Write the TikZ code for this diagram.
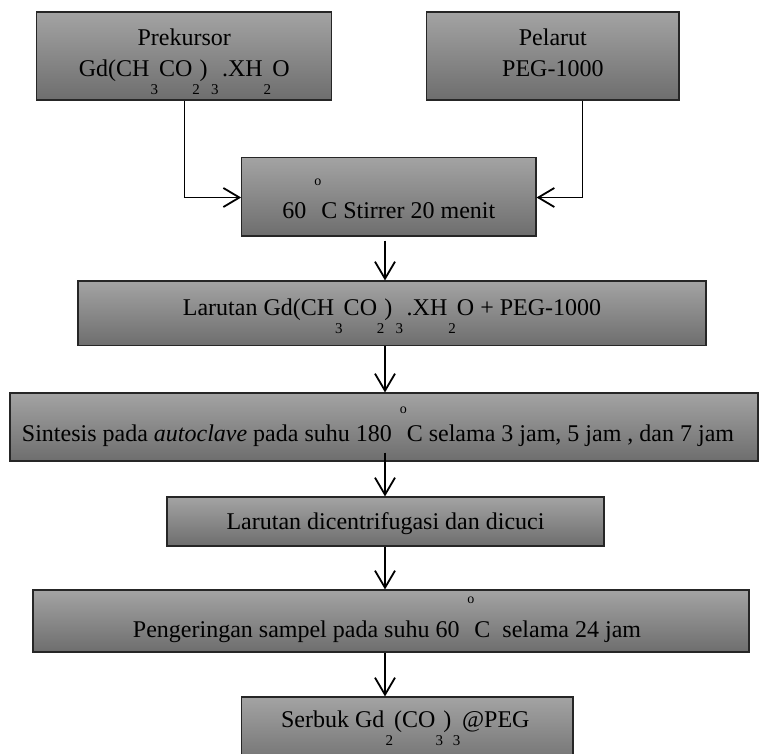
\documentclass[tikz,border=0pt]{standalone}
\usepackage{fontspec}
\setmainfont{Liberation Serif}
\usetikzlibrary{arrows.meta}
% low subscript placed well below the baseline, as in the reference
\newcommand{\lsub}[2][0.4em]{\makebox[#1]{\smash{\raisebox{-18pt}{\fontsize{15}{15}\selectfont #2}}}}
% raised degree sign "o"
\newcommand{\dego}[1][33pt]{\makebox[0.62em][r]{\smash{\raisebox{#1}{\fontsize{14}{14}\selectfont o}}}}
\begin{document}
\begin{tikzpicture}[x=1pt,y=-1pt,
  box/.style={draw=black!85, line width=1.1pt, top color=black!36, bottom color=black!57, inner sep=0pt},
  txt/.style={font=\fontsize{24}{31}\selectfont, inner sep=0pt, text=black},
  arr/.style={line width=1.8pt, -{Straight Barb[length=17pt,width=20pt]}},
  sidearr/.style={line width=1.8pt, -{Straight Barb[length=16pt,width=19pt]}},
  conn/.style={line width=0.9pt}]
\useasboundingbox (0,0) rectangle (760,754);
% boxes
\node[box, minimum width=295pt,   minimum height=88pt]   (b1) at (184.2,56) {};
\node[box, minimum width=252.3pt, minimum height=88pt]   (b2) at (552.85,56) {};
\node[box, minimum width=294.3pt, minimum height=78.7pt] (b3) at (388.85,196.65) {};
\node[box, minimum width=628pt,   minimum height=64.7pt] (b4) at (392,313.35) {};
\node[box, minimum width=748pt,   minimum height=68pt]   (b5) at (384,427) {};
\node[box, minimum width=437pt,   minimum height=49pt]   (b6) at (385.5,521.5) {};
\node[box, minimum width=716pt,   minimum height=62pt]   (b7) at (391,621) {};
\node[box, minimum width=331.3pt, minimum height=73pt]   (b8) at (407.35,733.5) {};
% texts
\node[txt, align=center] (t1) at ([yshift=1.2pt]b1.center) {Prekursor\\Gd(CH\lsub{3}CO\lsub[0.3em]{2})\lsub[0.6em]{3}.XH\lsub{2}O};
\node[txt, align=center] (t2) at ([yshift=3.2pt]b2.center) {Pelarut\\PEG-1000};
\node[txt, anchor=base] (t3) at ([yshift=-21.7pt]b3.center) {60\dego[33pt]C Stirrer 20 menit};
\node[txt, anchor=base] (t4) at ([yshift=-1.7pt]b4.center) {Larutan Gd(CH\lsub{3}CO\lsub[0.3em]{2})\lsub[0.6em]{3}.XH\lsub{2}O + PEG-1000};
\node[txt, anchor=base] (t5) at ([xshift=-6pt,yshift=-14pt]b5.center) {Sintesis pada \textit{autoclave} pada suhu 180\dego[28pt]C selama 3 jam, 5 jam , dan 7 jam};
\node[txt, anchor=base] (t6) at ([yshift=-7.5pt]b6.center) {Larutan dicentrifugasi dan dicuci};
\node[txt, anchor=base] (t7) at ([xshift=-4pt,yshift=-16pt]b7.center) {Pengeringan sampel pada suhu 60\dego[34pt]C\ \ selama 24 jam};
\node[txt, anchor=base] (t8) at ([xshift=-2pt,yshift=6.5pt]b8.center) {Serbuk Gd\lsub{2}(CO\lsub[0.33em]{3})\lsub[0.45em]{3}@PEG};
% side connectors
\coordinate (k1) at (184.3,197.5);
\coordinate (k2) at (582.7,197.5);
\draw[conn] (b1.south -| k1) -- (k1);
\draw[sidearr] ([xshift=-0.45pt]k1) -- (b3.west |- k1);
\draw[conn] (b2.south -| k2) -- (k2);
\draw[sidearr] ([xshift=0.45pt]k2) -- (b3.east |- k2);
% main vertical arrows
\coordinate (ax) at (385,0);
\draw[arr, shorten <=4pt] (b3.south -| ax) -- (b4.north -| ax);
\draw[arr] (b4.south -| ax) -- (b5.north -| ax);
\draw[arr, shorten <=-9pt] (b5.south -| ax) -- (b6.north -| ax);
\draw[arr] (b6.south -| ax) -- (b7.north -| ax);
\draw[arr] (b7.south -| ax) -- (b8.north -| ax);
\end{tikzpicture}
\end{document}
